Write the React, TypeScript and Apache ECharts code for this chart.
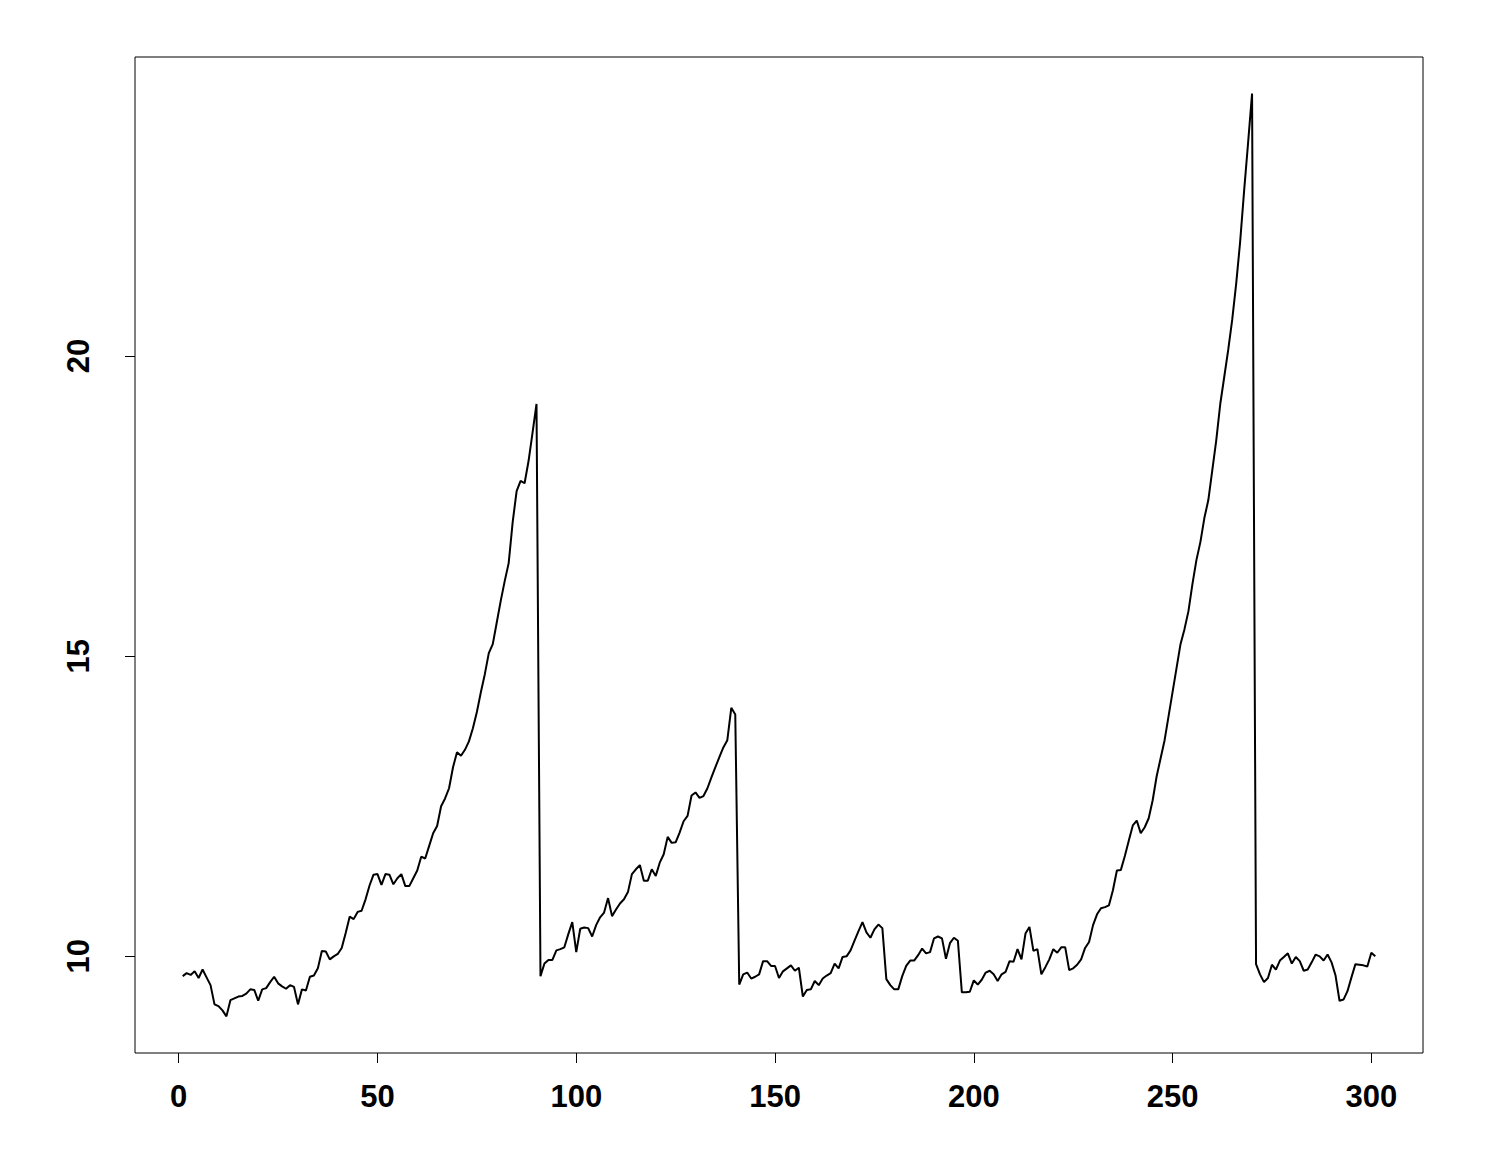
import React, { useEffect, useRef } from "react";
import * as echarts from "echarts";

const xTicks = [0, 50, 100, 150, 200, 250, 300];
const yTicks = [10, 15, 20];

const seg1 = [
  9.67, 9.72, 9.69, 9.75, 9.64, 9.78, 9.65, 9.52, 9.2, 9.17,
  9.1, 9.0, 9.27, 9.3, 9.33, 9.34, 9.38, 9.45, 9.44, 9.26,
  9.45, 9.47, 9.57, 9.66, 9.55, 9.5, 9.46, 9.52, 9.49, 9.2,
  9.45, 9.43, 9.66, 9.68, 9.8, 10.09, 10.08, 9.95, 10.0, 10.04,
  10.14, 10.39, 10.66, 10.62, 10.74, 10.76, 10.95, 11.18, 11.36, 11.37,
];
const seg2 = [
  11.19, 11.37, 11.36, 11.2, 11.3, 11.37, 11.17, 11.17, 11.3, 11.43,
  11.66, 11.63, 11.84, 12.05, 12.17, 12.5, 12.63, 12.8, 13.15, 13.4,
  13.34, 13.44, 13.58, 13.8, 14.07, 14.4, 14.7, 15.05, 15.2, 15.56,
  15.92, 16.25, 16.55, 17.23, 17.75, 17.92, 17.88, 18.25, 18.72, 19.2,
];
const seg3 = [
  9.67, 9.88, 9.94, 9.94, 10.1, 10.12, 10.15, 10.37, 10.57, 10.07,
  10.46, 10.48, 10.47, 10.33, 10.52, 10.65, 10.73, 10.97, 10.67, 10.78,
  10.88, 10.95, 11.07, 11.37, 11.45, 11.52, 11.26, 11.26, 11.45, 11.34,
  11.56, 11.7, 11.99, 11.89, 11.9, 12.06, 12.25, 12.34, 12.68, 12.73,
  12.64, 12.67, 12.8, 12.98, 13.15, 13.32, 13.48, 13.6, 14.14, 14.03,
];
const seg4 = [
  9.53, 9.7, 9.73, 9.63, 9.66, 9.7, 9.92, 9.92, 9.84, 9.84,
  9.64, 9.75, 9.8, 9.85, 9.76, 9.81, 9.33, 9.44, 9.45, 9.59,
  9.52, 9.63, 9.68, 9.72, 9.88, 9.8, 9.99, 10.0, 10.1, 10.26,
  10.42, 10.57, 10.4, 10.31, 10.45, 10.53, 10.47, 9.62, 9.52, 9.45,
  9.45, 9.67, 9.84, 9.93, 9.93, 10.02, 10.13, 10.05, 10.07, 10.3,
  10.33, 10.3, 9.96, 10.22, 10.31, 10.26, 9.4, 9.4, 9.41, 9.6,
];
const seg5 = [
  9.53, 9.61, 9.73, 9.76, 9.7, 9.59, 9.7, 9.74, 9.92, 9.91,
  10.12, 9.95, 10.38, 10.49, 10.09, 10.12, 9.7, 9.82, 9.95, 10.12,
  10.06, 10.15, 10.15, 9.77, 9.8, 9.86, 9.95, 10.14, 10.24, 10.52,
  10.7, 10.8, 10.82, 10.85, 11.1, 11.43, 11.44, 11.67, 11.93, 12.18,
  12.26, 12.05, 12.15, 12.3, 12.6, 13.0, 13.3, 13.6, 14.0, 14.4,
];
const seg6 = [
  14.8, 15.2, 15.45, 15.75, 16.2, 16.6, 16.9, 17.3, 17.6, 18.1,
  18.6, 19.2, 19.65, 20.1, 20.6, 21.2, 21.9, 22.75, 23.55, 24.37,
];
const seg7 = [
  9.87, 9.7, 9.57, 9.64, 9.86, 9.78, 9.93, 9.99, 10.05, 9.88,
  9.99, 9.92, 9.76, 9.78, 9.9, 10.03, 10.0, 9.93, 10.03, 9.9,
  9.68, 9.26, 9.28, 9.42, 9.65, 9.87, 9.86, 9.85, 9.83, 10.06,
  10.0,
];

const values = [...seg1, ...seg2, ...seg3, ...seg4, ...seg5, ...seg6, ...seg7];

export default function App() {
  const ref = useRef<HTMLDivElement>(null);
  useEffect(() => {
    if (!ref.current) return;
    const chart = echarts.init(ref.current, null, { renderer: "svg" });
    const data = values.map((v, i) => [i + 1, v]);
    const font = {
      fontFamily: "Liberation Sans, Arial, sans-serif",
      fontWeight: "bold" as const,
      fontSize: 31,
      color: "#000",
    };
    chart.setOption({
      animation: false,
      backgroundColor: "#fff",
      grid: {
        left: 135,
        right: 77,
        top: 57,
        bottom: 117,
        show: true,
        borderColor: "#000",
        borderWidth: 1,
        backgroundColor: "transparent",
      },
      xAxis: {
        type: "value",
        min: -11,
        max: 313,
        axisLine: { show: false, onZero: false },
        splitLine: { show: false },
        axisTick: {
          show: true,
          length: 10,
          lineStyle: { color: "#000", width: 1 },
          customValues: xTicks,
        },
        axisLabel: { ...font, margin: 28, customValues: xTicks },
      },
      yAxis: {
        type: "value",
        min: 8.39,
        max: 24.98,
        axisLine: { show: false, onZero: false },
        splitLine: { show: false },
        axisTick: {
          show: true,
          length: 10,
          lineStyle: { color: "#000", width: 1 },
          customValues: yTicks,
        },
        axisLabel: { ...font, margin: 41, rotate: 90, customValues: yTicks },
      },
      series: [
        {
          type: "line",
          data,
          symbol: "none",
          lineStyle: { color: "#000", width: 2 },
        },
      ],
    });
    return () => chart.dispose();
  }, []);
  return (
    <div
      ref={ref}
      style={{ position: "fixed", left: 0, top: 0, width: 1500, height: 1170 }}
    />
  );
}
